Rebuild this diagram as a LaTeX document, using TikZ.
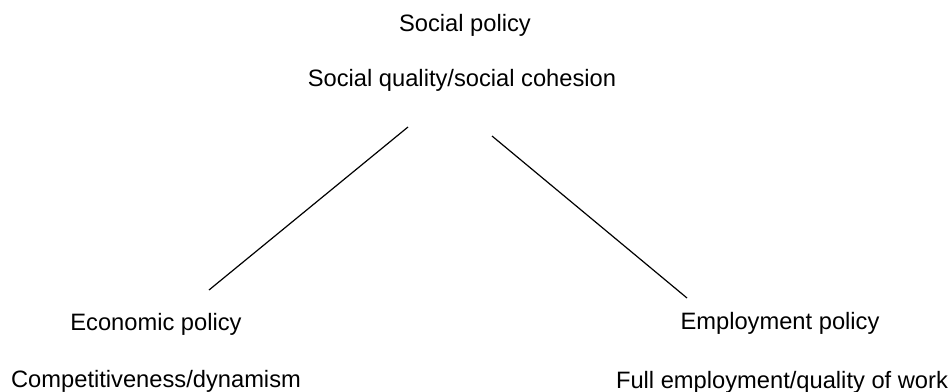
\documentclass[tikz,border=0pt]{standalone}
\usepackage{fontspec}
\setmainfont{Liberation Sans}
\usepackage{tikz}
\usetikzlibrary{positioning}

\tikzset{
    policy/.style={anchor=base, inner sep=0pt, font=\fontsize{11.85}{14}\selectfont},
    link/.style={line width=0.6pt}
}

\begin{document}
\begin{tikzpicture}[x=0.5pt, y=-0.5pt]
    \useasboundingbox (0,0) rectangle (948,391);

    \node (social) at (465,32) [policy] {Social policy};
    \node (cohesion) at (462,86) [policy] {Social quality/social cohesion};
    \node (economic) at (156,330) [policy] {Economic policy};
    \node (compet) at (156,387) [policy] {Competitiveness/dynamism};
    \node (employ) at (780,329) [policy] {Employment policy};
    \node (fullwork) at (782,388) [policy] {Full employment/quality of work};

    \coordinate (ltop) at (408,127);
    \coordinate (lbot) at (209,290);
    \coordinate (rtop) at (492,136);
    \coordinate (rbot) at (687,298);

    \draw [link] (lbot) -- (ltop);
    \draw [link] (rtop) -- (rbot);
\end{tikzpicture}
\end{document}
